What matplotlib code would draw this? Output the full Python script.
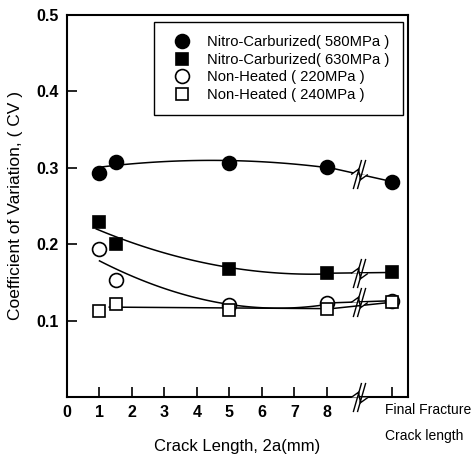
import numpy as np
import matplotlib
matplotlib.use("Agg")
import matplotlib.pyplot as plt
from matplotlib.path import Path

plt.rcParams['font.family'] = ['Liberation Sans', 'DejaVu Sans']

# ---- data ----
crack_len = [1, 1.5, 5, 8]          # mm
final_x = 10                        # "Final Fracture" position on axis
break_x = 9                         # axis break position
labels = ["Nitro-Carburized( 580MPa )", "Nitro-Carburized( 630MPa )",
          "Non-Heated ( 220MPa )", "Non-Heated ( 240MPa )"]
nc580 = [0.293, 0.308, 0.306, 0.301]
nc630 = [0.229, 0.200, 0.168, 0.162]
nh220 = [0.194, 0.153, 0.120, 0.123]
nh240 = [0.113, 0.122, 0.114, 0.115]
final_vals = [0.282, 0.163, 0.126, 0.124]

# fitted trend curves
fit_x = [[1.05, 1.5, 3, 5, 7, 8],
         [0.9, 1.5, 3, 5, 7, 8],
         [1.0, 1.5, 3, 5, 7, 8],
         [1.3, 3, 5, 8]]
fit_y = [[0.300, 0.304, 0.309, 0.309, 0.304, 0.301],
         [0.220, 0.210, 0.188, 0.170, 0.161, 0.161],
         [0.178, 0.168, 0.142, 0.121, 0.117, 0.121],
         [0.118, 0.117, 0.116, 0.116]]
fit_deg = [2, 2, 3, 1]

series = [nc580, nc630, nh220, nh240]
markers = ['o', 's', 'o', 's']
filled = [True, True, False, False]
msizes = [10, 9, 10, 9]

fig = plt.figure(figsize=(4.77, 4.59), dpi=100)
ax = fig.add_axes([0.1405, 0.1351, 0.7148, 0.8322])

# break symbol path
bverts = [(-6, -14), (2, 14), (-2, -14), (6, 14),
          (-8, 0), (-1, 5), (1, -5), (8, 0)]
bcodes = [Path.MOVETO, Path.LINETO, Path.MOVETO, Path.LINETO,
          Path.MOVETO, Path.LINETO, Path.LINETO, Path.LINETO]
brk = Path(bverts, bcodes)

for i, ys in enumerate(series):
    c = np.polyfit(fit_x[i], fit_y[i], fit_deg[i])
    xx = np.linspace(fit_x[i][0], fit_x[i][-1], 100)
    ax.plot(xx, np.polyval(c, xx), color='black', lw=1.1, zorder=2)
    ax.plot([crack_len[-1], final_x], [ys[-1], final_vals[i]], color='black', lw=1.1, zorder=2)
    if i < 3:
        ax.plot([break_x], [(ys[-1] + final_vals[i]) / 2], marker=brk, markersize=21,
                markerfacecolor='white', markeredgecolor='black', mew=1.0, ls='none', zorder=3)
    fc = 'black' if filled[i] else 'white'
    ax.plot(crack_len + [final_x], ys + [final_vals[i]], ls='none', marker=markers[i],
            markersize=msizes[i], markerfacecolor=fc, markeredgecolor='black', mew=1.2,
            zorder=4, label=labels[i])

ax.set_xlim(0, 10.5)
ax.set_ylim(0, 0.5)
ax.set_xticks([0, 1, 2, 3, 4, 5, 6, 7, 8, 10])
ax.set_xticklabels(['0', '1', '2', '3', '4', '5', '6', '7', '8', ''])
ax.set_yticks([0.1, 0.2, 0.3, 0.4, 0.5])
ax.set_yticklabels(['0.1', '0.2', '0.3', '0.4', '0.5'])
ax.tick_params(direction='in', length=7, width=1.2, labelsize=11.5, pad=6)
for lab in ax.get_xticklabels() + ax.get_yticklabels():
    lab.set_fontweight('bold')
for s in ax.spines.values():
    s.set_linewidth(1.5)

# axis break on x axis
ax.plot([break_x], [0], marker=brk, markersize=21, markerfacecolor='white',
        markeredgecolor='black', mew=1.0, ls='none', clip_on=False, zorder=5)

ax.set_xlabel("Crack Length, 2a(mm)", fontsize=12)
ax.xaxis.set_label_coords(0.5, -0.11)
ax.set_ylabel("Coefficient of Variation, ( CV )", fontsize=12.5)
ax.yaxis.set_label_coords(-0.13, 0.5)
ax.text(0.933, -0.034, "Final Fracture", transform=ax.transAxes, fontsize=10,
        ha='left', va='center')
ax.text(0.933, -0.102, "Crack length", transform=ax.transAxes, fontsize=10,
        ha='left', va='center')

leg = ax.legend(loc='upper right', bbox_to_anchor=(0.985, 0.982), fancybox=False,
                edgecolor='black', framealpha=1, fontsize=10.6, handlelength=2.0,
                handletextpad=0.7, borderpad=0.9, labelspacing=0.25, borderaxespad=0)
leg.get_frame().set_linewidth(1.0)

fig.savefig("out.png", dpi=100)
